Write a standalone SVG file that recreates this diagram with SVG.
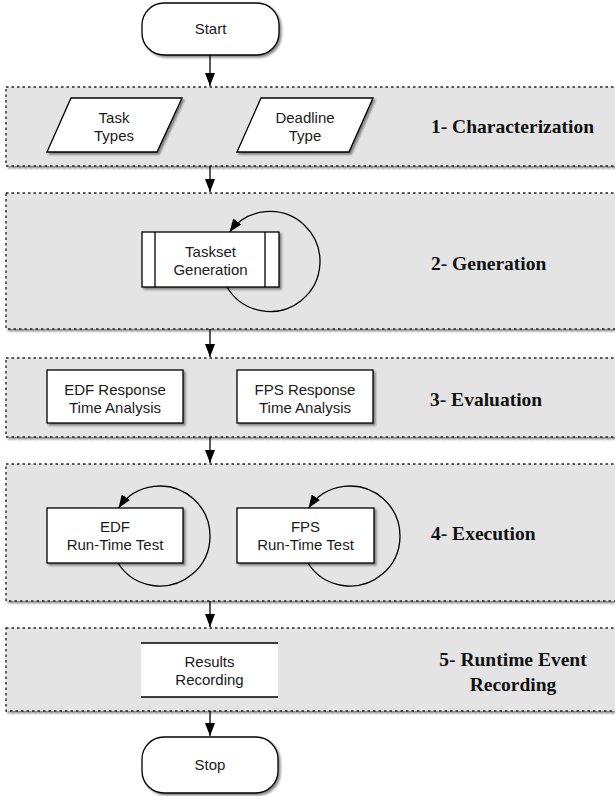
<svg xmlns="http://www.w3.org/2000/svg" width="615" height="796" viewBox="0 0 615 796">
  <defs>
    <filter id="shadow" x="-10%" y="-10%" width="130%" height="140%">
      <feGaussianBlur in="SourceAlpha" stdDeviation="1.2"/>
      <feOffset dx="1.5" dy="2" result="off"/>
      <feComponentTransfer><feFuncA type="linear" slope="0.45"/></feComponentTransfer>
      <feMerge><feMergeNode/><feMergeNode in="SourceGraphic"/></feMerge>
    </filter>
    <marker id="arrow" viewBox="0 0 13 10" refX="13" refY="5" markerWidth="13" markerHeight="10" markerUnits="userSpaceOnUse" orient="auto">
      <path d="M0,0 L13,5 L0,10 z" fill="#000"/>
    </marker>
  </defs>
  <style>
    .phase { fill: #e4e4e4; stroke: #222; stroke-width: 1.4; stroke-dasharray: 2.5 3; filter: url(#shadow); }
    .shape { fill: #fff; stroke: #000; stroke-width: 1.3; filter: url(#shadow); }
    .label { font-family: "Liberation Sans", Arial, sans-serif; font-size: 15px; fill: #1a1a1a; text-anchor: middle; }
    .title { font-family: "Liberation Serif", "Times New Roman", serif; font-size: 19.5px; font-weight: bold; fill: #111; }
    .conn { fill: none; stroke: #000; stroke-width: 1.3; marker-end: url(#arrow); }
  </style>

  <!-- phase bands -->
  <g id="phases">
    <rect class="phase" x="6" y="87" width="630" height="79"/>
    <rect class="phase" x="6" y="193" width="630" height="136"/>
    <rect class="phase" x="6" y="358" width="630" height="79"/>
    <rect class="phase" x="6" y="464" width="630" height="137"/>
    <rect class="phase" x="6" y="628" width="630" height="83"/>
    <text class="title" x="431" y="133">1- Characterization</text>
    <text class="title" x="431" y="270">2- Generation</text>
    <text class="title" x="430" y="406">3- Evaluation</text>
    <text class="title" x="431" y="540">4- Execution</text>
    <text class="title" x="513" y="666" text-anchor="middle">5- Runtime Event</text>
    <text class="title" x="513" y="690.5" text-anchor="middle">Recording</text>
  </g>

  <!-- connectors -->
  <g id="connectors">
    <line class="conn" x1="210" y1="55" x2="210" y2="86"/>
    <line class="conn" x1="210" y1="166" x2="210" y2="192"/>
    <line class="conn" x1="210" y1="329" x2="210" y2="357"/>
    <line class="conn" x1="210" y1="437" x2="210" y2="463"/>
    <line class="conn" x1="210" y1="601" x2="210" y2="627"/>
    <line class="conn" x1="210" y1="711" x2="210" y2="736"/>
    <path class="conn" d="M227,287 A50,50 0 1 0 229.6,232"/>
    <path class="conn" d="M117.9,563 A50,50 0 1 0 118.6,508"/>
    <path class="conn" d="M307.9,563 A50,50 0 1 0 308.6,508"/>
  </g>

  <g id="start">
    <rect class="shape" x="142" y="3" width="137" height="52" rx="22" ry="22"/>
    <text class="label" x="210.5" y="34">Start</text>
  </g>

  <g id="task-types">
    <polygon class="shape" points="71,98 182,98 157,152 47,152"/>
    <text class="label" x="114" y="122.5">Task</text>
    <text class="label" x="114" y="140.5">Types</text>
  </g>

  <g id="deadline-type">
    <polygon class="shape" points="261,98 373,98 349,152 237,152"/>
    <text class="label" x="305" y="122.5">Deadline</text>
    <text class="label" x="305" y="140.5">Type</text>
  </g>

  <g id="taskset-generation">
    <rect class="shape" x="142" y="232" width="137" height="55"/>
    <line x1="155" y1="232" x2="155" y2="287" stroke="#000" stroke-width="1.3"/>
    <line x1="265" y1="232" x2="265" y2="287" stroke="#000" stroke-width="1.3"/>
    <text class="label" x="210.5" y="256.5">Taskset</text>
    <text class="label" x="210.5" y="275">Generation</text>
  </g>

  <g id="edf-rta">
    <rect class="shape" x="47" y="370" width="136" height="53"/>
    <text class="label" x="115" y="395">EDF Response</text>
    <text class="label" x="115" y="413">Time Analysis</text>
  </g>

  <g id="fps-rta">
    <rect class="shape" x="237" y="370" width="136" height="53"/>
    <text class="label" x="305" y="395">FPS Response</text>
    <text class="label" x="305" y="413">Time Analysis</text>
  </g>

  <g id="edf-runtime">
    <rect class="shape" x="47" y="508" width="136" height="55"/>
    <text class="label" x="115" y="532">EDF</text>
    <text class="label" x="115" y="550">Run-Time Test</text>
  </g>

  <g id="fps-runtime">
    <rect class="shape" x="237" y="508" width="137" height="55"/>
    <text class="label" x="305.5" y="532">FPS</text>
    <text class="label" x="305.5" y="550">Run-Time Test</text>
  </g>

  <g id="results-recording">
    <rect x="141" y="643" width="137" height="54" fill="#fff"/>
    <line x1="141" y1="643" x2="278" y2="643" stroke="#000" stroke-width="1.3"/>
    <line x1="141" y1="697" x2="278" y2="697" stroke="#000" stroke-width="1.3"/>
    <text class="label" x="209.5" y="667">Results</text>
    <text class="label" x="209.5" y="685">Recording</text>
  </g>

  <g id="stop">
    <rect class="shape" x="142" y="737" width="136" height="56" rx="22" ry="22"/>
    <text class="label" x="210" y="770">Stop</text>
  </g>
</svg>
